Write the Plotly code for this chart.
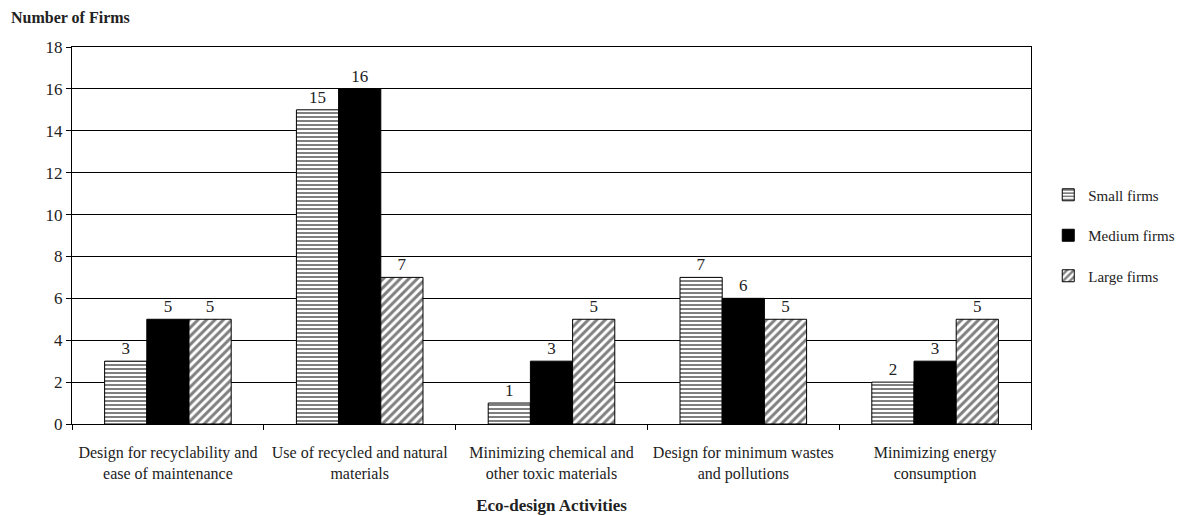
import plotly.graph_objects as go

categories = [
    "Design for recyclability and<br>ease of maintenance",
    "Use of recycled and natural<br>materials",
    "Minimizing chemical and<br>other toxic materials",
    "Design for minimum wastes<br>and pollutions",
    "Minimizing energy<br>consumption",
]
small_firms = [3, 15, 1, 7, 2]
medium_firms = [5, 16, 3, 6, 3]
large_firms = [5, 7, 5, 5, 5]
y_ticks = list(range(0, 19, 2))

SERIF = "Liberation Serif, Times New Roman, serif"
INK = "#222"

series = [
    ("Small firms", small_firms, dict(shape="-", fgcolor="black", bgcolor="white", size=4, solidity=0.5)),
    ("Medium firms", medium_firms, None),
    ("Large firms", large_firms, dict(shape="/", fgcolor="black", bgcolor="white", size=6, solidity=0.5)),
]

fig = go.Figure()
for i, (name, vals, pattern) in enumerate(series):
    marker = dict(color="white" if pattern else "black", line=dict(color="black", width=1))
    if pattern:
        marker["pattern"] = pattern
    fig.add_trace(go.Bar(
        name=name,
        x=categories,
        y=vals,
        text=[str(v) for v in vals],
        textposition="outside",
        textfont=dict(family=SERIF, size=17, color=INK),
        marker=marker,
        legendgroup=f"g{i}",
        cliponaxis=False,
    ))

fig.update_layout(
    width=1178,
    height=515,
    margin=dict(l=72, r=147, t=47, b=91, autoexpand=False),
    paper_bgcolor="white",
    plot_bgcolor="white",
    barmode="group",
    bargap=0.34,
    bargroupgap=0,
    font=dict(family=SERIF, size=16, color=INK),
    legend=dict(
        x=1.018, y=0.5, xanchor="left", yanchor="middle",
        font=dict(family=SERIF, size=15, color=INK),
        tracegroupgap=18,
        itemwidth=30,
        bgcolor="rgba(0,0,0,0)",
    ),
    annotations=[
        dict(text="<b>Number of Firms</b>", xref="paper", yref="paper",
             x=-0.066, y=1.077, xanchor="left", yanchor="middle",
             showarrow=False, font=dict(family=SERIF, size=16, color=INK)),
    ],
)

fig.update_xaxes(
    showline=True, linecolor="black", linewidth=1, mirror=True,
    ticks="outside", tickson="boundaries", ticklen=5, tickcolor="black",
    ticklabelstandoff=14,
    tickfont=dict(family=SERIF, size=16, color=INK),
    title=dict(text="<b>Eco-design Activities</b>", font=dict(family=SERIF, size=17, color=INK), standoff=20),
    showgrid=False,
)
fig.update_yaxes(
    range=[0, 18], tickvals=y_ticks,
    showline=True, linecolor="black", linewidth=1, mirror=True,
    ticks="outside", ticklen=5, tickcolor="black",
    showgrid=True, gridcolor="black", gridwidth=1,
    tickfont=dict(family=SERIF, size=17, color=INK),
    zeroline=False,
)

fig.write_html("out.html")
